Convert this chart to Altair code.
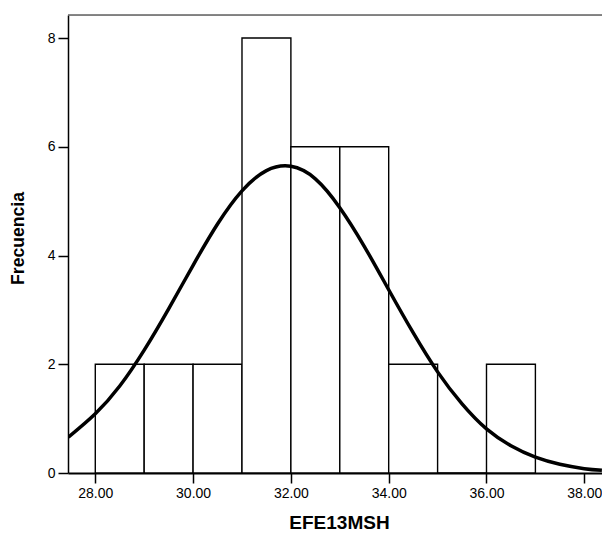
import altair as alt
import pandas as pd

# Histogram bins (left edges, right edges) and counts
bin_start = [28, 29, 30, 31, 32, 33, 34, 35, 36]
bin_end = [29, 30, 31, 32, 33, 34, 35, 36, 37]
counts = [2, 2, 2, 8, 6, 6, 2, 0, 2]

# Normal curve
curve_x = [27.45, 28.0, 28.5, 29.0, 29.5, 30.0, 30.5, 31.0, 31.5, 32.0, 32.5, 33.0,
           33.5, 34.0, 34.5, 35.0, 35.5, 36.0, 36.5, 37.0, 37.5, 38.0, 38.36]
curve_y = [0.66, 1.09, 1.60, 2.26, 3.02, 3.82, 4.58, 5.19, 5.56, 5.64, 5.41, 4.88,
           4.17, 3.37, 2.58, 1.86, 1.27, 0.81, 0.50, 0.29, 0.16, 0.08, 0.05]

x_ticks = [28, 30, 32, 34, 36, 38]
y_ticks = [0, 2, 4, 6, 8]

W, H = 534, 458
XDOM = [27.442, 38.362]
YDOM = [0, 8.423]

bars_df = pd.DataFrame({"start": bin_start, "end": bin_end, "count": counts})
curve_df = pd.DataFrame({"x": curve_x, "y": curve_y})

xscale = alt.Scale(domain=XDOM, nice=False, zero=False)
yscale = alt.Scale(domain=YDOM, nice=False)

bars = alt.Chart(bars_df).mark_rect(
    fill="white", stroke="black", strokeWidth=1.4
).encode(
    x=alt.X("start:Q", scale=xscale,
            axis=alt.Axis(values=x_ticks, format=".2f", title="EFE13MSH",
                          titleX=271, titleY=55, titleBaseline="alphabetic",
                          titleFontSize=19)),
    x2="end:Q",
    y=alt.Y("count:Q", scale=yscale,
            axis=alt.Axis(values=y_ticks, format="d", title="Frecuencia",
                          titleX=-50, titleY=223, titleBaseline="middle",
                          titleFontSize=17.6)),
    y2=alt.datum(0),
)

curve = alt.Chart(curve_df).mark_line(
    color="black", strokeWidth=3.5, interpolate="natural", clip=True
).encode(
    x=alt.X("x:Q", scale=xscale),
    y=alt.Y("y:Q", scale=yscale),
)

top = alt.Chart(pd.DataFrame({"a": [0]})).mark_rule(
    color="#606060", strokeWidth=1.5
).encode(
    x=alt.value(0), x2=alt.value(W), y=alt.value(0)
)

chart = alt.layer(bars, curve, top).properties(
    width=W, height=H,
    autosize=alt.AutoSizeParams(type="none"),
    padding={"left": 68, "top": 15, "right": 0, "bottom": 60},
).configure_view(
    stroke=None
).configure(
    font="Liberation Sans"
).configure_axis(
    grid=False,
    domainColor="black",
    domainWidth=1.5,
    tickColor="black",
    tickWidth=1.5,
    tickSize=10,
    labelColor="black",
    labelFont="Liberation Sans",
    labelFontSize=14,
    titleFont="Liberation Sans",
    titleFontWeight="bold",
    titleColor="black",
).configure_axisX(
    labelPadding=3,
    domainWidth=2,
).configure_axisY(
    labelPadding=3,
)

chart.save("out.html", embed_options={"renderer": "svg", "actions": False})
